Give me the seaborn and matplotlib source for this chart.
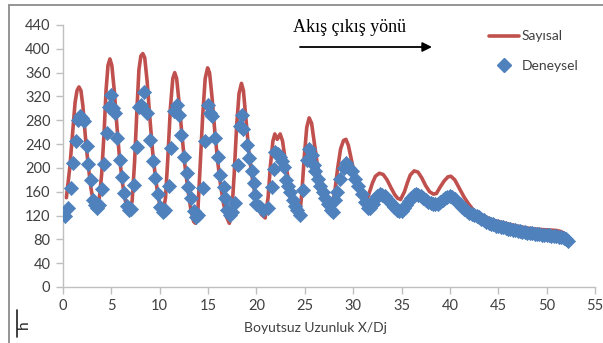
import numpy as np
import pandas as pd
import matplotlib
matplotlib.use("Agg")
import matplotlib.pyplot as plt
from matplotlib.lines import Line2D
import seaborn as sns

# Numerical (Sayısal) profile along the channel
sayisal_x = [0.35, 0.7, 1.0, 1.25, 1.45, 1.65, 1.85, 2.05, 2.3, 2.6, 2.9, 3.2, 3.45,
             3.7, 4.0, 4.25, 4.45, 4.65, 4.85, 5.05, 5.3, 5.55, 5.8, 6.1, 6.4, 6.7, 6.9,
             7.15, 7.4, 7.65, 7.85, 8.05, 8.25, 8.45, 8.7, 8.95, 9.25, 9.55, 9.85, 10.15, 10.35,
             10.6, 10.85, 11.1, 11.35, 11.55, 11.75, 12.0, 12.3, 12.6, 12.9, 13.2, 13.5, 13.7,
             13.95, 14.2, 14.45, 14.7, 14.95, 15.15, 15.4, 15.7, 16.0, 16.3, 16.6, 16.9, 17.2,
             17.45, 17.7, 17.95, 18.2, 18.45, 18.65, 18.9, 19.2, 19.5, 19.8, 20.1, 20.5, 20.9,
             21.2, 21.45, 21.7, 21.9, 22.15, 22.45, 22.7, 23.0, 23.3, 23.6, 23.9, 24.2, 24.45,
             24.7, 24.95, 25.2, 25.45, 25.7, 26.0, 26.3, 26.6, 26.9, 27.2, 27.5, 27.8,
             28.1, 28.4, 28.7, 29.0, 29.25, 29.5, 29.8, 30.1, 30.4, 30.7, 31.0, 31.4,
             31.7, 32.0, 32.3, 32.7, 33.1, 33.5, 33.9, 34.3, 34.6, 34.9,
             35.3, 35.6, 35.9, 36.3, 36.7, 37.1, 37.5, 37.9, 38.3, 38.6,
             39.0, 39.4, 39.8, 40.1, 40.5, 41.0, 41.5, 42.0, 42.5, 43.0, 43.5, 44.0, 44.5,
             45.0, 45.5, 46.0, 46.5, 47.0, 47.5, 48.0, 48.5, 49.0, 49.5, 50.0, 50.5, 51.0,
             51.5, 51.8, 52.1]
sayisal_h = [150, 200, 260, 310, 330, 336, 330, 305, 255, 205, 165, 138, 128,
             140, 190, 260, 330, 372, 383, 372, 330, 275, 225, 180, 148, 130, 126,
             145, 210, 300, 365, 388, 392, 385, 345, 290, 230, 185, 150, 128, 125,
             150, 220, 300, 350, 360, 350, 310, 255, 205, 165, 132, 110, 107,
             130, 210, 290, 350, 368, 360, 320, 260, 210, 170, 140, 118, 107,
             125, 190, 270, 325, 342, 330, 285, 230, 190, 160, 138, 122, 116,
             150, 205, 245, 257, 248, 257, 245, 210, 180, 155, 135, 122, 116,
             160, 220, 268, 284, 275, 240, 205, 180, 160, 145, 138, 136,
             160, 200, 232, 246, 248, 238, 215, 192, 175, 162, 152, 145,
             160, 175, 186, 191, 189, 180, 167, 155, 149, 147,
             160, 175, 188, 195, 193, 183, 170, 160, 156, 157,
             168, 178, 185, 186, 180, 165, 150, 138, 128, 122, 120, 115, 112,
             110, 108, 106, 104, 102, 100.5, 99, 98, 97, 96.5, 96, 95.5, 95,
             93, 90, 84]

# Experimental (Deneysel) measurements
deneysel_x = [0.2, 0.5, 0.8, 1.05, 1.3, 1.55, 1.75, 1.95, 2.15, 2.45, 2.6, 2.85, 3.1, 3.35, 3.55, 3.7,
              4.0, 4.25, 4.5, 4.75, 5.0, 5.2, 5.35, 5.6, 5.85, 6.05, 6.3, 6.6, 6.8, 7.0,
              7.35, 7.6, 7.85, 8.1, 8.35, 8.7, 9.0, 9.3, 9.55, 9.8, 10.05, 10.3, 10.5,
              10.95, 11.2, 11.45, 11.75, 12.0, 12.2, 12.55, 12.8, 12.96, 13.2, 13.5, 13.75, 14.0,
              14.5, 14.7, 14.95, 15.2, 15.4, 15.7, 16.05, 16.2, 16.6, 16.75, 17.0, 17.3, 17.5,
              17.8, 18.1, 18.3, 18.5, 18.65, 19.0, 19.2, 19.5, 19.7, 19.85, 20.0, 20.4, 20.7,
              21.2, 21.6, 21.85, 21.95, 22.2, 22.4, 22.6, 22.8, 23.1, 23.3, 23.5, 23.8, 24.0, 24.2, 24.5,
              24.85, 25.2, 25.45, 25.7, 25.9, 26.1, 26.4, 26.6, 26.9, 27.1, 27.4, 27.7, 27.95,
              28.1, 28.3, 28.6, 29.0, 29.3, 29.6, 29.9, 30.2, 30.5, 30.9, 31.2, 31.55,
              31.75, 32.0, 32.25, 32.5, 32.75, 33.0, 33.25, 33.5, 33.75, 34.0, 34.25, 34.5, 34.75,
              35.0, 35.25, 35.5, 35.75, 36.0, 36.25, 36.5, 36.75, 37.0, 37.25, 37.5, 37.75,
              38.0, 38.25, 38.5, 38.75, 39.0, 39.25, 39.5, 39.75, 40.0, 40.25, 40.5, 40.75,
              41.0, 41.25, 41.5, 41.75, 42.0, 42.25, 42.5, 42.75, 43.0, 43.25, 43.5, 43.75,
              44.0, 44.25, 44.5, 44.75, 45.0, 45.25, 45.5, 45.75, 46.0, 46.25, 46.5, 46.75,
              47.0, 47.25, 47.5, 47.75, 48.0, 48.25, 48.5, 48.75, 49.0, 49.25, 49.5, 49.75,
              50.0, 50.25, 50.5, 50.75, 51.0, 51.25, 51.5, 51.75, 52.0, 52.2]
deneysel_h = [120, 133, 166, 208, 245, 280, 287, 284, 279, 237, 207, 180, 146, 138, 133, 137,
              164, 206, 259, 303, 322, 300, 292, 250, 214, 185, 158, 136, 130, 131,
              172, 235, 302, 305, 328, 292, 247, 211, 183, 157, 134, 126, 130,
              170, 234, 296, 306, 289, 255, 219, 191, 168, 149, 127, 118, 121,
              166, 246, 306, 292, 287, 250, 218, 188, 168, 149, 130, 121, 126,
              141, 205, 270, 289, 266, 238, 216, 194, 174, 154, 140, 134, 129,
              132, 168, 199, 227, 223, 219, 212, 202, 180, 170, 160, 146, 136, 129, 121,
              163, 213, 232, 222, 205, 194, 182, 170, 160, 150, 140, 130, 126,
              146, 160, 182, 200, 208, 200, 194, 182, 170, 157, 143, 132,
              133, 140, 147, 153, 156, 155, 152, 148, 144, 139, 134, 130, 127,
              128, 132, 138, 144, 150, 155, 157, 155, 152, 149, 146, 143,
              141, 139, 139, 140, 143, 146, 149, 151, 152, 151, 147, 143,
              139, 135, 131, 128, 125, 123, 121, 119, 117, 114, 112, 110,
              108, 106, 105, 103, 102, 101, 100, 99, 98, 97, 96, 95,
              94.5, 94, 93, 92, 91.5, 91, 90, 89.5, 89, 88.5, 88, 87.5,
              87, 86.5, 86, 85.5, 85, 84.5, 84, 83, 80, 78]

x_ticks = [0, 5, 10, 15, 20, 25, 30, 35, 40, 45, 50, 55]
y_ticks = [0, 40, 80, 120, 160, 200, 240, 280, 320, 360, 400, 440]

RED = "#C0504D"
BLUE = "#4F81BD"
TXT = "#404040"
AXC = "#BFBFBF"

sns.set_theme(style="white")
plt.rcParams["font.family"] = ["Lato", "DejaVu Sans"]

fig = plt.figure(figsize=(6.03, 3.43), dpi=100)
ax = fig.add_axes([63 / 603, 1 - 287 / 343, (595 - 63) / 603, (287 - 25) / 343])

num = pd.DataFrame({"x": sayisal_x, "h": sayisal_h})
exp = pd.DataFrame({"x": deneysel_x, "h": deneysel_h})

sns.lineplot(data=num, x="x", y="h", sort=False, estimator=None, color=RED,
             linewidth=2.6, ax=ax, zorder=2)
sns.scatterplot(data=exp, x="x", y="h", marker="D", s=52, color=BLUE,
                edgecolor=BLUE, linewidth=0.5, ax=ax, zorder=3)

ax.set_xlim(0, 55)
ax.set_ylim(0, 440)
ax.set_xticks(x_ticks)
ax.set_yticks(y_ticks)
ax.set_xlabel("")
ax.set_ylabel("")
ax.tick_params(axis="both", which="major", direction="out", length=5, width=1,
               color=AXC, labelsize=10.5, labelcolor=TXT, pad=4, left=True, bottom=True)
for side in ("top", "right"):
    ax.spines[side].set_visible(False)
for side in ("left", "bottom"):
    ax.spines[side].set_color(AXC)
    ax.spines[side].set_linewidth(1)
ax.grid(False)

# Axis titles
fig.text(315 / 603, 1 - 328 / 343, "Boyutsuz Uzunluk X/Dj", ha="center", va="center",
         fontsize=10, color=TXT)
fig.text(24 / 603, 1 - 325 / 343, "h", ha="center", va="center",
         fontsize=11, color="#202020", rotation=90)
fig.add_artist(Line2D([17 / 603, 17 / 603], [1 - 337 / 343, 1 - 310 / 343],
                      transform=fig.transFigure, color="#202020", lw=1.2))

# Flow direction note
fig.text(350 / 603, 1 - 28 / 343, "Akış çıkış yönü", ha="center", va="center",
         fontsize=13, color="black", family=["Liberation Serif", "DejaVu Serif"])
ax.annotate("", xy=(432 / 603, 1 - 47 / 343), xytext=(300 / 603, 1 - 47 / 343),
            xycoords="figure fraction", textcoords="figure fraction",
            arrowprops=dict(arrowstyle="-|>", color="black", lw=1.3,
                            mutation_scale=14, shrinkA=0, shrinkB=0))

# Legend
handles = [Line2D([0], [0], color=RED, lw=2.6),
           Line2D([0], [0], color=BLUE, marker="D", markersize=7, lw=0)]
leg = fig.legend(handles, ["Sayısal", "Deneysel"], loc="upper left",
                 bbox_to_anchor=(476 / 603, 1 - 18 / 343), frameon=False,
                 fontsize=10, handlelength=2.2, labelspacing=1.25, handletextpad=0.2)
for t in leg.get_texts():
    t.set_color(TXT)

# Outer chart frame
fig.add_artist(Line2D([9 / 603, 9 / 603], [0, 1 - 5 / 343], transform=fig.transFigure,
                      color="#8C8C8C", lw=1.3))
fig.add_artist(Line2D([9 / 603, 1], [1 - 5 / 343, 1 - 5 / 343], transform=fig.transFigure,
                      color="#8C8C8C", lw=1.3))

fig.savefig("out.png", dpi=100)
